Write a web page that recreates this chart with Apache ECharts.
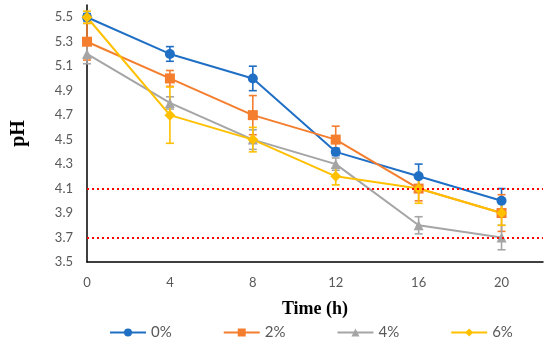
<!DOCTYPE html>
<html><head><meta charset="utf-8">
<script src="https://cdn.jsdelivr.net/npm/echarts@6/dist/echarts.min.js"></script>
<style>html,body{margin:0;padding:0;background:#fff}#c{width:550px;height:345px}</style>
</head><body><div id="c"></div>
<script>
const times = [0, 4, 8, 12, 16, 20];
const names = ['0%', '2%', '4%', '6%'];
const ph0 = [5.5, 5.2, 5.0, 4.4, 4.2, 4.0];
const ph2 = [5.3, 5.0, 4.7, 4.5, 4.1, 3.9];
const ph4 = [5.2, 4.8, 4.5, 4.3, 3.8, 3.7];
const ph6 = [5.5, 4.7, 4.5, 4.2, 4.1, 3.9];
const err0 = [0.03, 0.06, 0.10, 0.03, 0.10, 0.10];
const err2 = [0.15, 0.065, 0.16, 0.11, 0.10, 0.15];
const err4 = [0.08, 0.05, 0.08, 0.05, 0.07, 0.10];
const err6 = [0.05, 0.23, 0.10, 0.07, 0.12, 0.10];
const limits = [4.1, 3.7];

const colors = ['#1F6FC5', '#F47E2E', '#A5A5A5', '#FFC000'];
const symbols = ['circle', 'rect', 'triangle', 'diamond'];
const vals = [ph0, ph2, ph4, ph6];
const errs = [err0, err2, err4, err6];

const series = [];
vals.forEach((v, i) => {
  series.push({
    type: 'custom', name: names[i] + 'err', silent: true, z: 3,
    data: times.map((t, k) => [t, v[k] - errs[i][k], v[k] + errs[i][k]]),
    renderItem: (params, api) => {
      const lo = api.coord([api.value(0), api.value(1)]);
      const hi = api.coord([api.value(0), api.value(2)]);
      const w = 4;
      const st = {stroke: colors[i], lineWidth: 1.6};
      return {type: 'group', children: [
        {type: 'line', shape: {x1: lo[0], y1: lo[1], x2: hi[0], y2: hi[1]}, style: st},
        {type: 'line', shape: {x1: lo[0]-w, y1: lo[1], x2: lo[0]+w, y2: lo[1]}, style: st},
        {type: 'line', shape: {x1: hi[0]-w, y1: hi[1], x2: hi[0]+w, y2: hi[1]}, style: st}
      ]};
    }
  });
});
vals.forEach((v, i) => {
  series.push({
    type: 'line', name: names[i], z: 4,
    data: times.map((t, k) => [t, v[k]]),
    symbol: symbols[i], symbolSize: i === 3 ? 11 : 10,
    lineStyle: {color: colors[i], width: 2},
    itemStyle: {color: colors[i]},
    markLine: i === 0 ? {
      silent: true, symbol: 'none', label: {show: false},
      lineStyle: {color: '#FF0000', type: [2, 3], width: 2.2},
      data: limits.map(y => [{coord: [0, y]}, {coord: [22, y]}])
    } : undefined
  });
});

const chart = echarts.init(document.getElementById('c'));
chart.setOption({
  animation: false,
  color: colors,
  grid: {left: 87, right: 7, top: 5, bottom: 83},
  xAxis: {
    type: 'value', min: 0, max: 22, interval: 4,
    name: 'Time (h)', nameLocation: 'middle', nameGap: 38,
    nameTextStyle: {fontFamily: 'Liberation Serif', fontWeight: 'bold', fontSize: 18, color: '#000'},
    axisLine: {lineStyle: {color: '#000', width: 1.5}},
    axisTick: {show: false},
    splitLine: {show: false},
    axisLabel: {color: '#595959', fontSize: 13, fontFamily: 'Lato', margin: 14, showMaxLabel: false}
  },
  yAxis: {
    type: 'value', min: 3.5, max: 5.6, interval: 0.2,
    name: 'pH', nameLocation: 'middle', nameGap: 58,
    nameTextStyle: {fontFamily: 'Liberation Serif', fontWeight: 'bold', fontSize: 20, color: '#000'},
    axisLine: {show: true, lineStyle: {color: '#000', width: 1.5}},
    axisTick: {show: false},
    splitLine: {show: false},
    axisLabel: {color: '#595959', fontSize: 13, fontFamily: 'Lato', margin: 14, showMaxLabel: false,
      formatter: v => v.toFixed(1)}
  },
  legend: {
    data: names, bottom: 0, left: 104, itemGap: 51, itemWidth: 36, itemHeight: 10,
    textStyle: {color: '#595959', fontSize: 15, fontFamily: 'Lato'}
  },
  series: series
});
</script></body></html>
